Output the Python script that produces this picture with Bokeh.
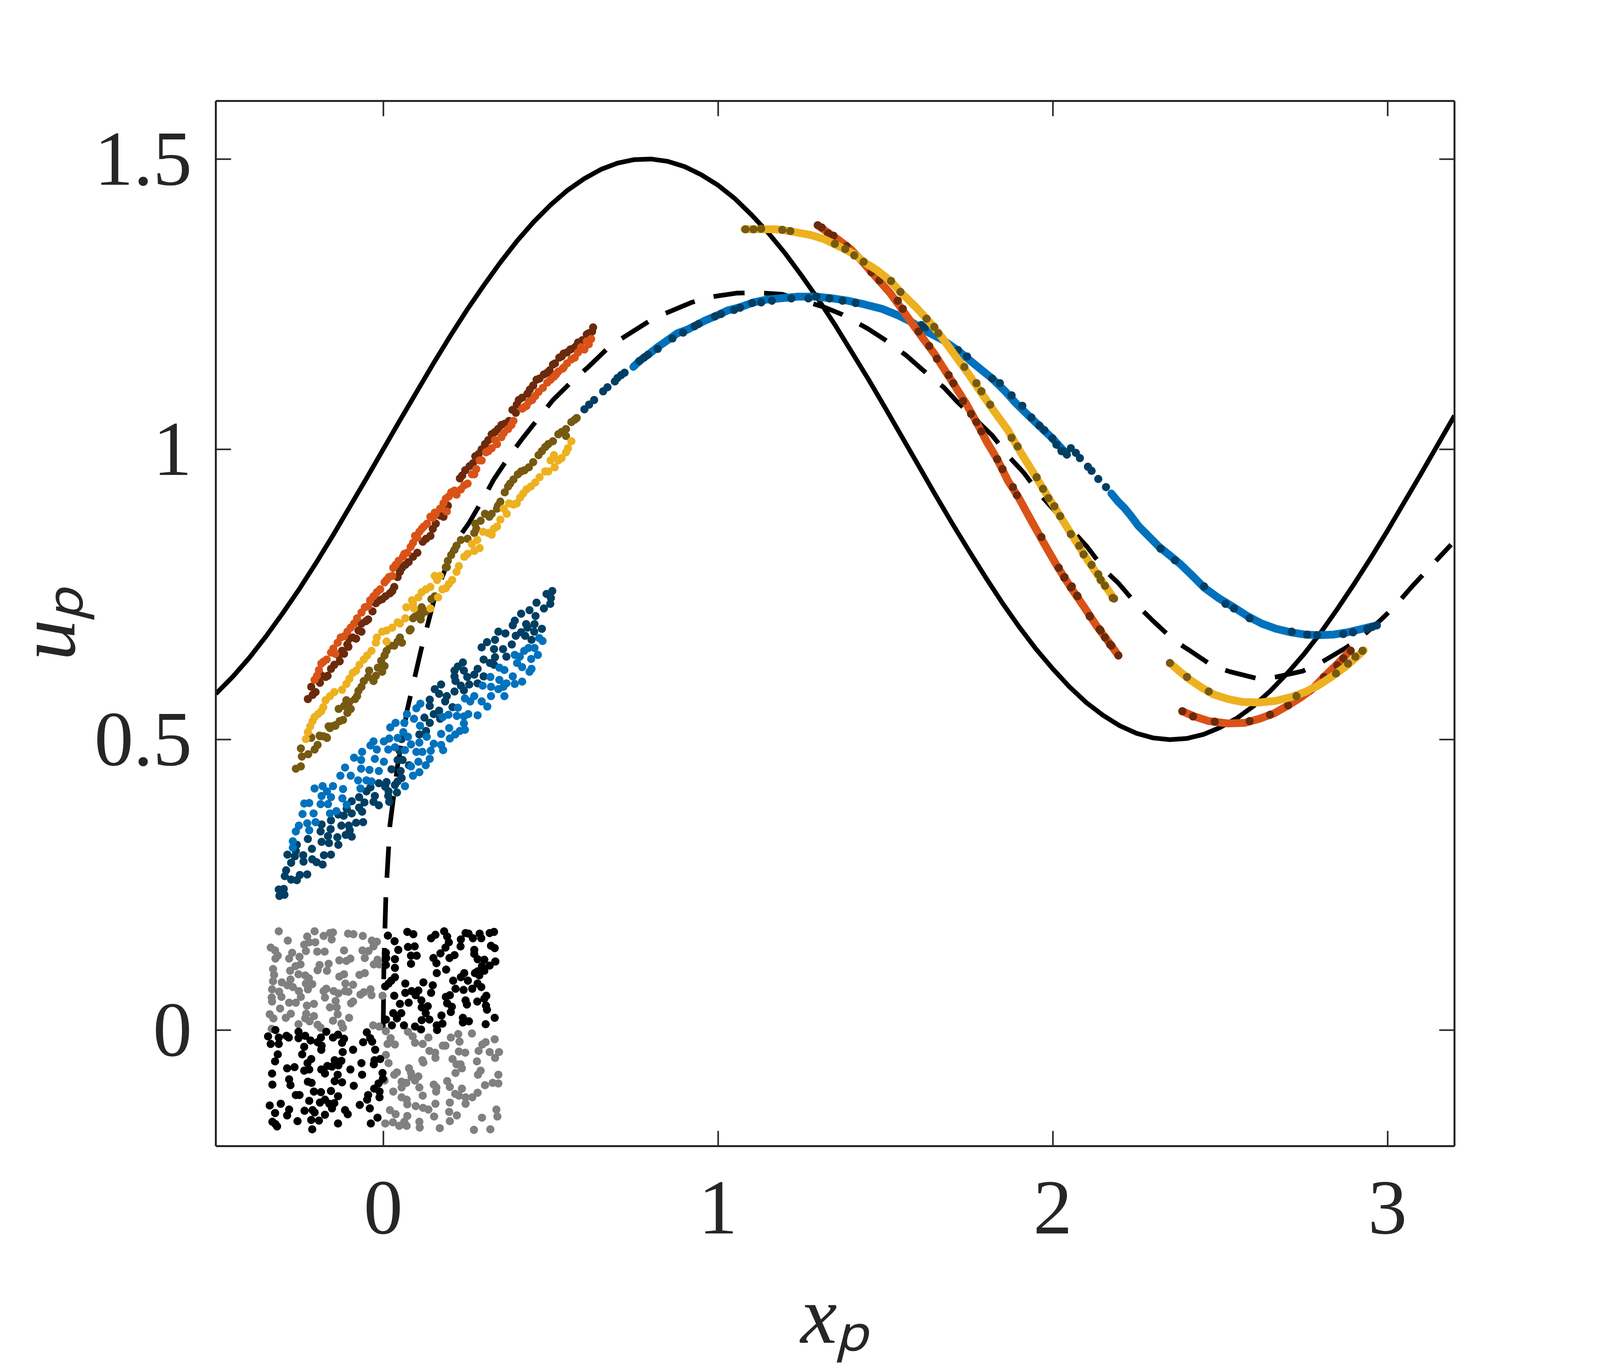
from bokeh.embed import file_html
from bokeh.models import FixedTicker, LinearAxis, Range1d
from bokeh.plotting import figure
from bokeh.resources import INLINE

# Curves
solid_x = [-0.5, -0.45, -0.4, -0.35, -0.3, -0.25, -0.2, -0.15, -0.1, -0.05, 0, 0.05, 0.1, 0.15, 0.2, 0.25, 0.3, 0.35, 0.4, 0.45, 0.5, 0.55, 0.6, 0.65, 0.7, 0.75, 0.8, 0.85, 0.9, 0.95, 1.0, 1.05, 1.1, 1.15, 1.2, 1.25, 1.3, 1.35, 1.4, 1.45, 1.5, 1.55, 1.6, 1.65, 1.7, 1.75, 1.8, 1.85, 1.9, 1.95, 2.0, 2.05, 2.1, 2.15, 2.2, 2.25, 2.3, 2.35, 2.4, 2.45, 2.5, 2.55, 2.6, 2.65, 2.7, 2.75, 2.8, 2.85, 2.9, 2.95, 3.0, 3.05, 3.1, 3.15, 3.2]
solid_y = [0.579, 0.608, 0.641, 0.678, 0.718, 0.760, 0.805, 0.852, 0.901, 0.950, 1.0, 1.050, 1.099, 1.148, 1.195, 1.240, 1.282, 1.322, 1.359, 1.392, 1.421, 1.446, 1.466, 1.482, 1.493, 1.499, 1.5, 1.496, 1.487, 1.473, 1.455, 1.432, 1.404, 1.373, 1.338, 1.299, 1.258, 1.214, 1.167, 1.120, 1.071, 1.021, 0.971, 0.921, 0.872, 0.825, 0.779, 0.735, 0.694, 0.656, 0.622, 0.591, 0.564, 0.542, 0.524, 0.511, 0.503, 0.500, 0.502, 0.509, 0.521, 0.537, 0.558, 0.584, 0.614, 0.647, 0.684, 0.725, 0.768, 0.813, 0.860, 0.909, 0.958, 1.008, 1.058]

dashed_x = [0, .002, .008, .02, .042, .072, .112, .157, .218, .255, .301, .330, .379, .415, .467, .507, .569, .611, .676, .721, .795, .842, .921, .973, 1.055, 1.110, 1.192, 1.317, 1.372, 1.447, 1.498, 1.564, 1.607, 1.674, 1.713, 1.819, 1.873, 1.913, 1.964, 2.103, 2.157, 2.197, 2.258, 2.297, 2.362, 2.408, 2.480, 2.530, 2.613, 2.667, 2.746, 2.796, 2.872, 2.915, 2.983, 3.022, 3.075, 3.19]
dashed_y = [0, .11, .232, .352, .452, .552, .652, .752, .842, .872, .917, .948, .990, 1.018, 1.056, 1.085, 1.120, 1.141, 1.177, 1.194, 1.221, 1.234, 1.253, 1.262, 1.269, 1.270, 1.267, 1.245, 1.232, 1.208, 1.189, 1.161, 1.139, 1.107, 1.083, 1.024, .985, .960, .921, .832, .791, .769, .728, .706, .671, .654, .626, .617, .605, .608, .618, .631, .657, .673, .708, .730, .765, .836]

# Initial particles
black_x = [.014, .034, .045, .008, .009, .035, .008, .035, .035, .024, .016, .006, .033, .050, .076, .030, .041, .054, .008, .026, .062, .095, .113, .066, .072, .090, .074, .094, .083, .100, .083, .120, .148, .143, .066, .085, .097, .105, .114, .133, .115, .127, .138, .115, .174, .177, .160, .161, .202, .205, .191, .187, .199, .216, .209, .232, .242, .240, .253, .266, .282, .293, .308, .302, .281, .246, .250, .307, .310, .333, .238, .256, .238, .306, .160, .188, .159, .150, .171, .186, .198, .213, .196, .191, .182, .156, .143, .231, .232, .246, .255, .268, .288, .293, .318, .331, .322, .333, .272, .272, .282, .302, .318, .335, .295, .293, .282, .274, .287, .302,
           -.322, -.344, -.336, -.312, -.312, -.289, -.282, -.253, -.253, -.233, -.217, -.196, -.186, -.170, -.184, -.185, -.150, -.135, -.117, -.123, -.236, -.242, -.315, -.323, -.215, -.226, -.121, -.145, -.125, -.167, -.153, -.134, -.090, -.049, -.039, -.033, -.060, -.024, -.026, -.009, -.028, -.065, -.098, -.063, -.174, -.185, -.221, -.236, -.287, -.265, -.332, -.331, -.281, -.277, -.225, -.214, -.136, -.145, -.123, -.088, -.002, -.001, -.014, -.027, -.011, -.045, -.048, -.011, -.207, -.186, -.156, -.135, -.261, -.250, -.221, -.189, -.174, -.161, -.146, -.153, -.306, -.339, -.281, -.323, -.287, -.235, -.211, -.205, -.174, -.114, -.106, -.070, -.040, -.017, -.037, -.135, -.192, -.215, -.212, -.256, -.331, -.322, -.317]
black_y = [.1625, .153, .138, .133, .124, .122, .112, .107, .091, .085, .080, .075, .059, .045, .047, .029, .020, .029, .018, .008, .008, .006, .001, .080, .169, .165, .143, .144, .128, .128, .114, .082, .077, .064, .064, .067, .060, .068, .051, .041, .039, .029, .018, .017, .025, .011, .008, .000, .031, .040, .046, .057, .060, .071, .085, .091, .098, .069, .085, .071, .080, .074, .059, .054, .049, .051, .044, .042, .035, .021, .021, .015, .013, .010, .098, .104, .115, .124, .132, .142, .124, .129, .151, .161, .170, .164, .158, .144, .156, .167, .166, .158, .166, .158, .167, .169, .145, .141, .138, .131, .122, .121, .111, .118, .110, .103, .101, .098, .094, .102,
           .000, -.011, -.024, -.013, -.024, -.010, -.013, -.003, -.014, -.010, -.018, -.021, -.013, -.003, -.027, -.034, -.013, -.008, -.015, -.022, -.029, -.042, -.042, -.054, -.050, -.057, -.038, -.052, -.053, -.062, -.063, -.061, -.034, -.004, -.014, -.020, -.021, -.034, -.052, -.050, -.059, -.057, -.068, -.077, -.075, -.068, -.068, -.070, -.066, -.064, -.075, -.094, -.085, -.095, -.089, -.091, -.077, -.088, -.090, -.096, -.074, -.084, -.092, -.101, -.106, -.112, -.120, -.116, -.106, -.107, -.105, -.114, -.112, -.112, -.122, -.125, -.120, -.127, -.126, -.135, -.127, -.130, -.137, -.143, -.147, -.139, -.138, -.142, -.146, -.138, -.145, -.129, -.135, -.151, -.161, -.161, -.156, -.155, -.171, -.157, -.158, -.162, -.166]

gray_x = [-.312, -.285, -.227, -.205, -.178, -.159, -.150, -.154, -.105, -.089, -.061, -.034, -.019, -.029, -.336, -.323, -.315, -.322, -.272, -.281, -.236, -.221, -.203, -.231, -.197, -.175, -.117, -.131, -.110, -.098, -.062, -.044, -.055, -.017, -.028, -.012, -.250, -.247, -.262, -.278, -.253, -.190, -.196, -.163, -.168, -.329, -.326, -.329, -.303, -.286, -.277, -.270, -.233, -.222, -.231, -.212, -.225, -.131, -.117, -.113, -.090, -.071, -.055, -.332, -.311, -.304, -.333, -.332, -.252, -.246, -.281, -.261, -.178, -.170, -.174, -.148, -.134, -.114, -.104, -.068, -.058, -.038, -.035, -.002, -.142, -.090, -.096, -.228, -.207, -.159, -.139, -.308, -.339, -.328, -.276, -.291, -.230, -.233, -.207, -.220, -.136, -.102, -.150, -.125, -.120, -.196, -.187, -.253, -.333, -.030, -.012,
          .008, .074, .088, .095, .135, .118, .022, .013, .035, .202, .224, .228, .265, .333, .306, .296, .285, .318, .346, .334, .138, .155, .156, .178, .186, .226, .245, .008, .016, .117, .120, .207, .219, .231, .235, .280, .077, .083, .085, .105, .095, .041, .033, .291, .283, .216, .344, .344, .327, .304, .004, .055, .069, .055, .055, .030, .108, .151, .159, .158, .118, .191, .199, .070, .072, .235, .215, .226, .246, .266, .282, .246, .097, .119, .135, .156, .199, .020, .037, .072, .152, .197, .220, .199, .006, .029, .048, .063, .070, .108, .109, .169, .271, .320, .295, .338, .341]
gray_y = [.170, .154, .161, .170, .162, .167, .168, .156, .166, .165, .162, .154, .152, .144, .142, .137, .128, .123, .133, .123, .147, .151, .151, .136, .135, .135, .137, .120, .119, .123, .137, .136, .124, .121, .113, .113, .126, .113, .110, .102, .096, .112, .103, .114, .102, .105, .095, .084, .082, .077, .087, .074, .094, .089, .080, .079, .070, .092, .096, .080, .078, .095, .098, .070, .066, .057, .056, .049, .067, .057, .047, .047, .067, .071, .056, .067, .063, .067, .066, .061, .065, .070, .060, .059, .050, .049, .046, .042, .045, .039, .039, .037, .027, .020, .028, .021, .028, .020, .024, .015, .027, .021, .016, .011, .004, .009, .004, .010, .002, .008, .006,
          -.002, -.003, -.011, -.022, -.013, -.024, -.014, -.024, -.025, -.013, -.007, -.020, -.006, -.016, -.021, -.025, -.036, -.038, -.038, -.048, -.036, -.039, -.048, -.027, -.027, -.037, -.039, -.043, -.057, -.052, -.056, -.050, -.059, -.059, -.066, -.054, -.066, -.074, -.081, -.080, -.087, -.073, -.077, -.070, -.077, -.074, -.077, -.092, -.091, -.095, -.087, -.089, -.091, -.099, -.116, -.106, -.099, -.094, -.099, -.106, -.113, -.088, -.098, -.120, -.128, -.101, -.110, -.113, -.116, -.116, -.108, -.127, -.131, -.134, -.137, -.127, -.125, -.138, -.145, -.148, -.149, -.141, -.147, -.157, -.161, -.159, -.165, -.158, -.165, -.158, -.168, -.169, -.172, -.171, -.151, -.137, -.149]

# Blue cloud
blue_x = [.466, .476, .452, .434, .421, .462, .442, .393, .408, .400, .415, .443, .437, .347, .362, .320, .347, .387, .393, .415, .368, .359, .297, .322, .344, .362, .272, .322, .294, .311, .244, .260, .223, .282, .254, .241, .241, .220, .195, .178, .244, .229, .197, .215, .173, .199, .111, .099, .071, .092, .063, .037, .021, .060, .074, .110, .043, .130, .108, .151, .083, .173, .179, .002, .018, -.029, -.038, .035, .015, -.019, .065, .099, .117, .142, .139, .127, .105, .108, .089, .065, .083, -.063, -.087, -.066, -.025, .002, -.013, -.041, -.066, -.114, -.128, -.097, -.075, -.050, -.035, -.068, -.205, -.181, -.150, -.120, -.168, -.184, -.156, -.122, -.236, -.221, -.187, -.165, -.109, -.140, -.208, -.241, -.159, -.202, -.252, -.227, -.261, -.221, -.270, -.270]
blue_y = [.675, .670, .658, .658, .653, .646, .639, .646, .643, .632, .625, .622, .617, .624, .620, .608, .603, .609, .596, .600, .597, .591, .593, .591, .587, .575, .575, .575, .566, .557, .571, .566, .555, .542, .544, .540, .528, .541, .543, .539, .517, .515, .520, .509, .510, .502, .562, .554, .544, .536, .529, .529, .521, .513, .505, .524, .503, .505, .495, .493, .492, .491, .482, .497, .502, .497, .490, .487, .483, .483, .482, .479, .479, .481, .467, .456, .462, .444, .438, .420, .454, .479, .469, .465, .467, .462, .446, .448, .450, .452, .438, .438, .430, .430, .428, .416, .416, .420, .420, .415, .411, .403, .401, .399, .390, .391, .389, .389, .388, .377, .373, .372, .373, .358, .352, .356, .342, .344, .325, .314]
navy_x = [.505, .488, .501, .499, .458, .480, .437, .412, .455, .393, .387, .427, .452, .431, .474, .451, .344, .365, .396, .412, .424, .443, .310, .334, .384, .294, .331, .358, .368, .300, .334, .319, .331, .238, .223, .213, .241, .282, .272, .251, .300, .213, .216, .173, .154, .282, .257, .232, .241, .167, .213, .190, .185, .139, .207, .139, .167, .151, .170, .123, .139, .128, .108, .055, .049, .043, .058, .077, .025, .052, .055, -.013, .010, .043, .035, .041, .006, .016, .015, .018, -.038, -.050, -.025, -.072, -.094, -.029, -.013, -.056, -.072, -.063, -.109, -.094, -.118, -.134, -.081, -.060, -.156, -.184, -.125, -.103, -.157, -.100, -.187, -.165, -.094, -.137, -.112, -.225, -.184, -.162, -.134, -.213, -.258, -.261, -.239, -.286, -.264, -.275, -.238, -.212, -.199, -.181, -.177, -.156, -.290, -.294, -.275, -.258, -.249, -.227, -.312, -.297, -.310, -.295]
navy_y = [.756, .751, .744, .734, .736, .726, .723, .717, .713, .705, .697, .699, .699, .693, .691, .686, .686, .683, .679, .685, .679, .672, .668, .672, .664, .659, .656, .656, .643, .638, .642, .632, .629, .633, .626, .619, .619, .622, .612, .608, .609, .609, .601, .595, .587, .597, .595, .593, .585, .579, .583, .575, .566, .569, .556, .558, .550, .544, .536, .538, .529, .515, .509, .501, .481, .465, .465, .456, .449, .446, .434, .425, .427, .428, .422, .409, .419, .411, .403, .393, .418, .411, .403, .401, .394, .393, .387, .392, .383, .376, .381, .373, .369, .371, .357, .358, .361, .354, .352, .352, .346, .344, .342, .334, .333, .332, .336, .329, .324, .322, .319, .312, .319, .308, .301, .302, .299, .288, .290, .294, .289, .285, .301, .302, .275, .265, .259, .258, .267, .268, .242, .243, .231, .233]

# Orange and yellow clouds
orange_x = [.621, .614, .601, .582, .572, .549, .539, .516, .510, .490, .464, .454, .435, .422, .428, .389, .373, .353, .340, .324, .307, .294, .278, .272, .252, .232, .219, .203, .187, .190, .170, .154, .148, .131, .115, .102, .095, .082, .072, .059, .037, .027, .017, .004, -.019, -.039, -.045, -.065, -.087, -.107, -.127, -.149, -.143, -.169, -.185, -.198, -.205,
            .608, .591, .562, .536, .523, .500, .477, .445, .415, .383, .360, .334, .314, .288, .265, .242, .213, .196, .180, .157, .141, .121, .108, .089, .063, .046, .030, .010, -.009, -.029, -.055, -.078, -.097, -.117, -.136, -.156, -.179, -.192]
orange_y = [1.190, 1.181, 1.172, 1.167, 1.158, 1.148, 1.141, 1.129, 1.125, 1.115, 1.099, 1.092, 1.082, 1.073, 1.075, 1.049, 1.035, 1.021, 1.009, 1.002, .995, .981, .966, .957, .941, .931, .922, .926, .915, .893, .898, .891, .882, .872, .863, .848, .851, .832, .822, .815, .801, .782, .780, .771, .754, .740, .730, .719, .700, .686, .676, .657, .648, .638, .631, .610, .603,
            1.186, 1.176, 1.155, 1.139, 1.134, 1.120, 1.106, 1.085, 1.070, 1.042, 1.028, 1.016, .997, .981, .957, .938, .929, .919, .907, .889, .884, .867, .858, .839, .820, .808, .796, .775, .759, .747, .728, .709, .693, .678, .667, .650, .634, .620]
brown_x = [.627, .624, .608, .582, .575, .559, .539, .526, .507, .497, .480, .458, .448, .431, .415, .399, .396, .376, .363, .343, .324, .314, .294, .275, .268, .245, .229, .193, .170, .157, .141, .118, .102, .076, .056, .043, .033, .020, -.003, -.022, -.045, -.065, -.065, -.081, -.101, -.104, -.117, -.133, -.130, -.146, -.166, -.185, -.189, -.202, -.215, -.211, -.225,
           .614, .595, .569, .549, .533, .513, .490, .467, .438, .405, .386, .353, .334, .304, .285, .258, .236, .180, .148, .128, .089, .066, .050, .027, .007, -.012, -.032, -.052, -.074, -.091, -.107, -.123, -.156, -.172]
brown_y = [1.210, 1.203, 1.198, 1.184, 1.177, 1.172, 1.165, 1.158, 1.146, 1.136, 1.129, 1.120, 1.110, 1.096, 1.089, 1.077, 1.063, 1.049, 1.044, 1.035, 1.026, 1.016, 1.000, .988, .976, .964, .950, .903, .886, .872, .851, .841, .822, .806, .796, .780, .763, .752, .742, .735, .707, .700, .686, .674, .674, .660, .648, .645, .635, .629, .610, .611, .598, .582, .591, .577, .570,
           1.200, 1.188, 1.174, 1.167, 1.160, 1.148, 1.132, 1.122, 1.103, 1.085, 1.068, 1.042, 1.030, 1.009, .992, .971, .955, .884, .863, .846, .815, .801, .789, .756, .747, .740, .721, .704, .688, .676, .664, .653, .622, .608]
yellow_x = [.562, .552, .533, .510, .512, .484, .454, .428, .409, .399, .376, .369, .340, .324, .298, .288, .265, .252, .226, .206, .187, .170, .154, .141, .115, .164, .141, .086, .092, .069, .066, .043, .010, .010, -.022, -.048, -.071, -.091, -.110, -.146, -.172, -.185, -.205, -.218, -.231,
            .546, .523, .500, .493, .467, .441, .418, .389, .360, .350, .330, .314, .281, .272, .242, .219, .196, .177, .161, .128, .105, .089, .050, .027, -.003, -.019, -.035, -.058, -.081, -.101, -.123, -.159, -.179, -.195, -.211, -.225]
yellow_y = [1.014, 1.002, .985, .990, .969, .962, .943, .931, .917, .907, .907, .889, .867, .853, .858, .830, .837, .820, .799, .775, .761, .782, .782, .763, .754, .745, .726, .740, .726, .728, .709, .702, .688, .669, .667, .645, .629, .615, .596, .582, .568, .549, .539, .523, .501,
            .995, .981, .981, .962, .952, .936, .924, .905, .898, .879, .863, .856, .844, .825, .815, .789, .768, .759, .775, .759, .745, .735, .700, .693, .686, .676, .653, .638, .619, .605, .586, .575, .556, .544, .532, .513]
olive_x = [.578, .562, .533, .546, .507, .484, .464, .422, .402, .379, .363, .350, .343, .304, .317, .275, .272, .232, .213, .193, .187, .144, .115, .108, .089, .112, .082, .050, .056, .020, .004, .004, -.016, -.042, -.029, -.058, -.074, -.084, -.110, -.133, -.097, -.120, -.143, -.163, -.215, -.189, -.169, -.261, -.246, -.243, -.246, -.224, -.205, -.196, -.215, -.190, -.168, -.143, -.159,
           .572, .546, .523, .493, .474, .448, .435, .412, .389, .373, .340, .324, .291, .278, .252, .219, .203, .190, .154, .128, .115, .095, .079, .043, .033, .010, -.006, -.003, -.022, -.045, -.065, -.078, -.101, -.117, -.107, -.130, -.153, -.179]
olive_y = [1.054, 1.047, 1.030, 1.023, 1.014, 1.004, .990, .964, .957, .941, .926, .910, .903, .889, .884, .872, .856, .844, .827, .808, .797, .742, .728, .719, .709, .707, .690, .676, .667, .662, .645, .627, .624, .619, .601, .601, .584, .570, .568, .553, .553, .534, .525, .523, .504, .506, .504, .450, .454, .471, .485, .475, .483, .491, .503, .507, .503, .524, .520,
           1.051, 1.035, 1.026, 1.009, .997, .978, .969, .962, .948, .936, .898, .889, .877, .863, .846, .834, .818, .797, .747, .721, .716, .712, .688, .669, .662, .653, .636, .617, .610, .608, .591, .575, .565, .558, .546, .532, .523, .506]

# Later positions, right hand side
blue_band1_x = [.747, .765, .791, .822, .842, .879, .908, .942, .962, .991, 1.028, 1.067, 1.106, 1.145, 1.184, 1.239, 1.294, 1.341, 1.388, 1.435, 1.490, 1.537, 1.576, 1.623, 1.670, 1.717, 1.772, 1.819, 1.858, 1.889, 1.928, 1.964, 1.999, 2.038]
blue_band1_y = [1.142, 1.152, 1.163, 1.177, 1.185, 1.200, 1.206, 1.216, 1.222, 1.229, 1.239, 1.245, 1.253, 1.258, 1.260, 1.263, 1.263, 1.260, 1.256, 1.250, 1.242, 1.231, 1.220, 1.203, 1.189, 1.170, 1.144, 1.122, 1.100, 1.080, 1.058, 1.038, 1.019, .994]
blue_band2_x = [2.175, 2.195, 2.214, 2.234, 2.256, 2.318, 2.344, 2.380, 2.416, 2.452, 2.495, 2.538, 2.581, 2.624, 2.667, 2.710, 2.753, 2.796, 2.839, 2.882, 2.925, 2.968]
blue_band2_y = [.924, .910, .899, .885, .868, .832, .820, .803, .783, .762, .744, .729, .713, .700, .691, .685, .681, .680, .681, .685, .691, .697]
navy_right_x = [.601, .615, .630, .657, .670, .692, .700, .711, .721, .765, .779, .791, .820, .864, .896, .930, .942, .991, 1.009, 1.048, 1.066, 1.102, 1.129, 1.161, 1.219, 1.270, 1.294, 1.333, 1.372, 1.411, 1.607, 1.619, 1.717, 1.744, 1.819, 1.842, 1.877, 1.909, 1.936, 1.960, 1.975, 1.999, 2.011, 2.026, 2.030, 2.042, 2.054, 2.069, 2.081, 2.105, 2.116, 2.136, 2.159, 2.322, 2.365, 2.452, 2.516, 2.541, 2.588, 2.714, 2.760, 2.790, 2.868, 2.897, 2.940, 2.954, 2.968]
navy_right_y = [1.069, 1.077, 1.085, 1.100, 1.107, 1.117, 1.123, 1.128, 1.132, 1.152, 1.158, 1.163, 1.173, 1.191, 1.201, 1.212, 1.216, 1.229, 1.233, 1.240, 1.244, 1.252, 1.253, 1.256, 1.260, 1.260, 1.263, 1.260, 1.256, 1.252, 1.214, 1.210, 1.171, 1.160, 1.122, 1.114, 1.093, 1.075, 1.055, 1.041, 1.033, 1.019, 1.008, .997, .997, .991, 1.002, .994, .985, .970, .963, .949, .935, .829, .809, .764, .734, .726, .709, .686, .681, .680, .682, .685, .691, .694, .697]

orange_band1_x = [1.298, 1.329, 1.357, 1.396, 1.427, 1.462, 1.482, 1.513, 1.545, 1.576, 1.615, 1.647, 1.678, 1.709, 1.740, 1.772, 1.803, 1.834, 1.866, 1.897, 1.936, 1.975, 2.014, 2.054, 2.093, 2.132, 2.171, 2.196]
orange_band1_y = [1.386, 1.373, 1.362, 1.345, 1.326, 1.303, 1.290, 1.270, 1.245, 1.220, 1.189, 1.164, 1.136, 1.108, 1.080, 1.047, 1.013, .983, .946, .918, .877, .837, .798, .762, .729, .695, .665, .645]
orange_band2_x = [2.387, 2.423, 2.466, 2.523, 2.574, 2.617, 2.660, 2.703, 2.739, 2.775, 2.810, 2.846, 2.890]
orange_band2_y = [.549, .540, .532, .528, .529, .536, .545, .559, .572, .587, .608, .628, .654]
brown_right_x = [1.298, 1.310, 1.329, 1.345, 1.384, 1.458, 1.482, 1.537, 1.552, 1.599, 1.631, 1.654, 1.689, 1.703, 1.732, 1.756, 1.772, 1.787, 1.834, 1.850, 1.881, 1.893, 1.966, 2.018, 2.034, 2.054, 2.073, 2.111, 2.140, 2.156, 2.175, 2.196, 2.035, 2.057, 2.074, 2.110, 2.143, 2.171, 2.387, 2.419, 2.484, 2.588, 2.649, 2.703, 2.771, 2.810, 2.850, 2.868, 2.890]
brown_right_y = [1.386, 1.382, 1.372, 1.368, 1.350, 1.305, 1.291, 1.256, 1.242, 1.203, 1.178, 1.156, 1.128, 1.114, 1.083, 1.061, 1.047, 1.031, .983, .966, .935, .921, .849, .796, .779, .762, .748, .712, .690, .676, .662, .645, .780, .764, .747, .713, .688, .664, .549, .540, .531, .532, .543, .559, .586, .608, .628, .640, .653]

yellow_band1_x = [1.079, 1.106, 1.145, 1.169, 1.192, 1.231, 1.278, 1.317, 1.357, 1.404, 1.443, 1.474, 1.513, 1.552, 1.591, 1.631, 1.670, 1.709, 1.748, 1.787, 1.827, 1.866, 1.905, 1.944, 1.983, 2.022, 2.061, 2.101, 2.140, 2.183]
yellow_band1_y = [1.379, 1.379, 1.379, 1.379, 1.378, 1.374, 1.369, 1.362, 1.351, 1.337, 1.320, 1.309, 1.291, 1.267, 1.245, 1.220, 1.192, 1.161, 1.130, 1.097, 1.064, 1.033, .994, .958, .921, .885, .849, .812, .779, .743]
yellow_band2_x = [2.350, 2.380, 2.408, 2.444, 2.480, 2.523, 2.566, 2.617, 2.667, 2.710, 2.753, 2.789, 2.832, 2.875, 2.911, 2.929]
yellow_band2_y = [.632, .617, .604, .590, .578, .570, .565, .564, .567, .573, .582, .592, .608, .626, .644, .654]
olive_right_x = [1.082, 1.106, 1.129, 1.192, 1.216, 1.349, 1.380, 1.407, 1.435, 1.517, 1.545, 1.623, 1.646, 1.658, 1.736, 1.772, 1.787, 1.813, 1.877, 1.895, 1.952, 1.971, 1.987, 2.005, 2.022, 2.054, 2.079, 2.116, 2.136, 2.156, 2.183, 2.092, 2.143, 2.179, 2.350, 2.401, 2.466, 2.728, 2.846, 2.882, 2.904, 2.925]
olive_right_y = [1.379, 1.379, 1.380, 1.378, 1.376, 1.354, 1.345, 1.334, 1.323, 1.290, 1.271, 1.225, 1.211, 1.200, 1.142, 1.114, 1.100, 1.077, 1.020, 1.005, .952, .932, .916, .902, .885, .854, .834, .801, .785, .765, .743, .819, .775, .744, .632, .608, .583, .575, .614, .631, .643, .653]

x_ticks = [0, 1, 2, 3]
y_ticks = [0, 0.5, 1, 1.5]
y_tick_labels = {0: "0", 0.5: "0.5", 1: "1", 1.5: "1.5"}

ink = "#262626"
light_blue, dark_blue = "#0072BD", "#003F63"
light_orange, dark_orange = "#D95319", "#6B2A0C"
light_yellow, dark_yellow = "#EDB120", "#765A12"
dot = 21
band = 20

# The photographed page is only about 4096 wide, so the frame is narrowed to keep the whole chart in view
p = figure(
    width=4096, height=3500,
    frame_width=3171, frame_height=2676,
    min_border_left=534, min_border_right=391, min_border_top=258, min_border_bottom=566,
    x_range=Range1d(-0.5, 3.2), y_range=Range1d(-0.2, 1.6),
    x_axis_label="x\u209a", y_axis_label="u\u209a",
    output_backend="svg", toolbar_location=None, background_fill_color="white",
)
p.grid.grid_line_color = None
p.outline_line_color = None

p.add_layout(LinearAxis(ticker=FixedTicker(ticks=y_ticks), major_label_overrides={t: "" for t in y_ticks}), "right")
p.add_layout(LinearAxis(ticker=FixedTicker(ticks=x_ticks), major_label_overrides={t: "" for t in x_ticks}), "above")
p.below[0].ticker = FixedTicker(ticks=x_ticks)
p.left[0].ticker = FixedTicker(ticks=y_ticks)
p.left[0].major_label_overrides = y_tick_labels

for axis in p.axis:
    axis.axis_line_color = ink
    axis.axis_line_width = 5
    axis.major_tick_line_color = ink
    axis.major_tick_line_width = 4
    axis.major_tick_in = 39
    axis.major_tick_out = 0
    axis.minor_tick_line_color = None
    axis.major_label_text_color = ink
    axis.major_label_text_font = "Liberation Serif"
    axis.axis_label_text_color = ink
    axis.axis_label_text_font = "Liberation Serif"
    axis.axis_label_text_font_style = "italic"
    axis.axis_label_text_font_size = "210px"

p.below[0].major_label_text_font_size = "200px"
p.left[0].major_label_text_font_size = "200px"
p.below[0].major_label_standoff = 92
p.left[0].major_label_standoff = 61
p.below[0].axis_label_standoff = 90
p.left[0].axis_label_standoff = 3

p.line(solid_x, solid_y, color="black", line_width=12, line_join="round")
p.line(dashed_x, dashed_y, color="black", line_width=12, line_dash="80 50", line_join="round")

p.scatter(gray_x, gray_y, size=dot, color="#808080", line_color=None)
p.scatter(black_x, black_y, size=dot, color="black", line_color=None)

p.scatter(navy_x, navy_y, size=dot, color=dark_blue, line_color=None)
p.scatter(blue_x, blue_y, size=dot, color=light_blue, line_color=None)
p.line(blue_band1_x, blue_band1_y, color=light_blue, line_width=band, line_cap="round", line_join="round")
p.line(blue_band2_x, blue_band2_y, color=light_blue, line_width=band, line_cap="round", line_join="round")
p.scatter(navy_right_x, navy_right_y, size=dot, color=dark_blue, line_color=None)

p.scatter(brown_x, brown_y, size=dot, color=dark_orange, line_color=None)
p.scatter(orange_x, orange_y, size=dot, color=light_orange, line_color=None)
p.line(orange_band1_x, orange_band1_y, color=light_orange, line_width=band, line_cap="round", line_join="round")
p.line(orange_band2_x, orange_band2_y, color=light_orange, line_width=band, line_cap="round", line_join="round")
p.scatter(brown_right_x, brown_right_y, size=dot, color=dark_orange, line_color=None)

p.scatter(olive_x, olive_y, size=dot, color=dark_yellow, line_color=None)
p.scatter(yellow_x, yellow_y, size=dot, color=light_yellow, line_color=None)
p.line(yellow_band1_x, yellow_band1_y, color=light_yellow, line_width=band, line_cap="round", line_join="round")
p.line(yellow_band2_x, yellow_band2_y, color=light_yellow, line_width=band, line_cap="round", line_join="round")
p.scatter(olive_right_x, olive_right_y, size=dot, color=dark_yellow, line_color=None)

open("out.html", "w").write(file_html(p, INLINE))
